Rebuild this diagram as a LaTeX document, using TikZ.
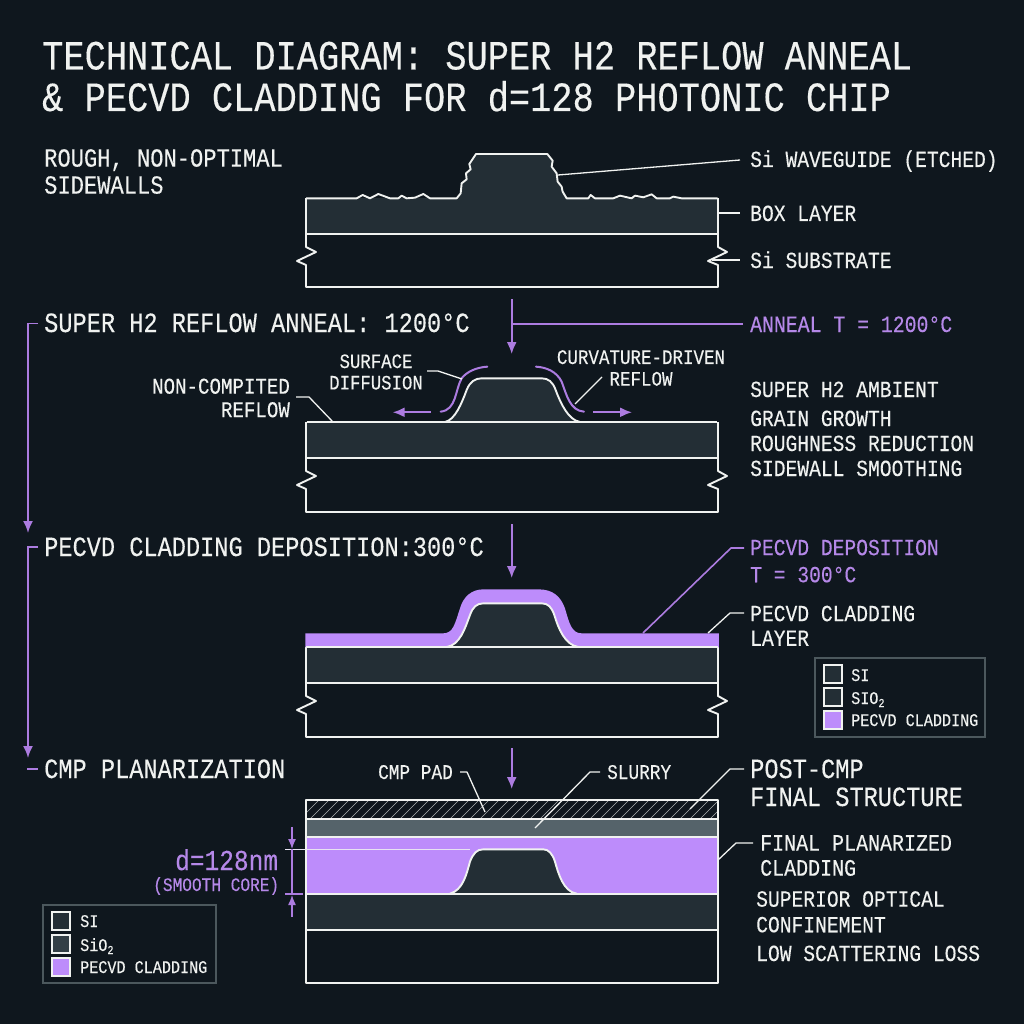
\documentclass[tikz,border=0pt]{standalone}
\usepackage{fontspec}
\setmainfont[FakeStretch=0.85,FakeBold=0.25]{Liberation Mono}
\usetikzlibrary{arrows.meta}
\definecolor{bgc}{HTML}{0F171E}
\definecolor{oxc}{HTML}{232E35}
\definecolor{purc}{HTML}{BD8CFB}
\definecolor{plc}{HTML}{AC7CE0}
\definecolor{ptx}{HTML}{B588E8}
\definecolor{txc}{HTML}{F0F2F0}
\definecolor{slc}{HTML}{55636A}
\definecolor{lgb}{HTML}{4C585D}
\definecolor{swb}{HTML}{333F46}
\newcommand{\fsz}[1]{\fontsize{#1}{#1}\selectfont}
\newcommand{\lsub}{\raisebox{-3pt}{\fontsize{12}{12}\selectfont 2}}
\newcommand{\panelbox}[3]{%
  \fill[oxc] (306,#1) rectangle (718,#2);
  \draw[ln] (306,#1) -- (306,#2) (718,#1) -- (718,#2);
  \draw[ln] (306,#2) -- (718,#2);
  \draw[ln] (306,#2) -- (306,#2+13) -- (316,#2+18) -- (297,#2+27) -- (306,#2+31) -- (306,#3) -- (718,#3) -- (718,#2+31) -- (708,#2+27) -- (727,#2+18) -- (718,#2+13) -- (718,#2);
}
\tikzset{
  ln/.style={draw=txc,line width=1.9pt,line join=round},
  lead/.style={draw=txc,line width=1.3pt,line join=round},
  plead/.style={draw=plc,line width=1.6pt,line join=round},
  parr/.style={plc,line width=1.8pt,-{Latex[length=12pt,width=10pt]}},
  txt/.style={anchor=base west,inner sep=0pt,text=txc},
  ptxt/.style={txt,text=ptx},
  mlt/.style={anchor=north west,inner sep=0pt,text=txc,align=left},
  title/.style={txt,font=\fsz{41.6}},
  head/.style={txt,font=\fsz{27.8}},
  lab/.style={txt,font=\fsz{23.1}},
  small/.style={txt,font=\fsz{20.6}},
  leg/.style={txt,font=\fsz{17.8}},
  lgbox/.style={draw=lgb,line width=1.1pt,fill=bgc},
  swatch/.style={draw=txc,line width=1.5pt}
}
\begin{document}
\begin{tikzpicture}[x=1pt,y=-1pt]
\useasboundingbox (0,0) rectangle (1024,1024);
\fill[bgc] (0,0) rectangle (1024,1024);
% title
\node[title] (t1) at (42,69.5) {TECHNICAL DIAGRAM: SUPER H2 REFLOW ANNEAL};
\node[title] (t2) at (42,111) {\& PECVD CLADDING FOR d=128 PHOTONIC CHIP};
% ---- panel 1
\panelbox{198}{234}{287}
\begin{scope}[shift={(290,140)},x=0.3333pt,y=-0.3333pt]
\fill[oxc] (500,174) -- (512,160) -- (515,130) -- (530,118) -- (528,100) -- (542,88) -- (538,72) -- (558,42) -- (772,42) -- (788,62) -- (785,80) -- (800,100) -- (803,125) -- (815,140) -- (818,155) -- (830,174) -- cycle;
\draw[ln] (48,175) -- (200,175) -- (218,165) -- (240,175) -- (265,162) -- (300,175) -- (325,175) -- (335,167) -- (350,175) -- (375,173) -- (400,162) -- (420,175) -- (500,175)
  -- (512,160) -- (515,130) -- (530,118) -- (528,100) -- (542,88) -- (538,72) -- (558,42) -- (772,42) -- (788,62) -- (785,80) -- (800,100) -- (803,125) -- (815,140) -- (818,155) -- (830,175)
  -- (895,175) -- (902,165) -- (915,175) -- (970,175) -- (990,167) -- (1025,175) -- (1035,167) -- (1060,172) -- (1085,163) -- (1100,175) -- (1140,175) -- (1150,170) -- (1175,175) -- (1283,175);
\end{scope}
\node[txt,font=\fsz{26},align=left,mlt] (rough) at (44,149) {ROUGH, NON-OPTIMAL\\[1pt]SIDEWALLS};
\node[lab] (wg) at (750,167) {Si WAVEGUIDE (ETCHED)};
\node[lab] (boxl) at (750,221) {BOX LAYER};
\node[lab] (subs) at (750,268) {Si SUBSTRATE};
\coordinate (wgend) at (558,175);
\coordinate (boxend) at (718,213);
\coordinate (subend) at (712,260);
\draw[lead] (wgend) -- (740,160);
\draw[lead] (boxend) -- (740,213);
\draw[lead] (subend) -- (740,260);
% ---- flow arrows
\coordinate (a1s) at (511.7,299); \coordinate (a1e) at (511.7,354);
\draw[parr] (a1s) -- (a1e);
\coordinate (a1b) at (511.7,324);
\node[ptxt,font=\fsz{23.3}] (annealT) at (750,332) {ANNEAL T = 1200°C};
\draw[plead] (a1b) -- (743,324);
\node[head] (h2) at (44,332) {SUPER H2 REFLOW ANNEAL: 1200°C};
\coordinate (r1t) at (38,323.5);
\draw[plc,line width=1.8pt,-{Latex[length=12pt,width=10pt]}] (r1t) -- (28,323.5) -- (28,533);
% ---- panel 2
\panelbox{422}{458}{512}
\begin{scope}[shift={(280,340)},x=0.3333pt,y=-0.3333pt]
\fill[oxc] (495,246) .. controls (525,240) and (545,190) .. (560,150) .. controls (570,125) and (585,115) .. (605,115) -- (785,115) .. controls (805,115) and (818,125) .. (827,150) .. controls (842,190) and (865,240) .. (900,246) -- cycle;
\draw[ln] (495,246) .. controls (525,240) and (545,190) .. (560,150) .. controls (570,125) and (585,115) .. (605,115) -- (785,115) .. controls (805,115) and (818,125) .. (827,150) .. controls (842,190) and (865,240) .. (900,246);
\draw[ln] (80,247) -- (1312,247);
\draw[plc,line width=2pt,line cap=round] (482,215) .. controls (530,210) and (525,150) .. (545,115) .. controls (560,95) and (590,82) .. (622,80);
\draw[plc,line width=2pt,line cap=round] (768,80) .. controls (800,82) and (830,95) .. (845,125) .. controls (860,165) and (870,212) .. (912,215);
\end{scope}
\coordinate (pl) at (430.7,412.3); \coordinate (pl2) at (392.7,412.3);
\coordinate (pr) at (593,412.3); \coordinate (pr2) at (632,412.3);
\draw[parr] (pl) -- (pl2);
\draw[parr] (pr) -- (pr2);
\node[font=\fsz{20.4},text=txc,inner sep=0pt,align=center] (surf) at (376,372) {SURFACE\\[1pt]DIFFUSION};
\node[font=\fsz{20.6},text=txc,inner sep=0pt,align=center] (curv) at (641,368) {CURVATURE-DRIVEN\\[1pt]REFLOW};
\node[font=\fsz{22.5},text=txc,inner sep=0pt,align=right] (nc) at (221,398) {NON-COMPITED\\[1pt]REFLOW};
\coordinate (nce) at (333,422);
\draw[lead] (296,397) -- (309,397) -- (nce);
\coordinate (sfe) at (462,379);
\draw[lead] (427,371) -- (438,371) -- (sfe);
\coordinate (cve) at (575,404);
\draw[lead] (602,377) -- (cve);
\node[lab] (amb) at (750,397) {SUPER H2 AMBIENT};
\node[lab] (gg) at (750,426) {GRAIN GROWTH};
\node[lab] (rr) at (750,451) {ROUGHNESS REDUCTION};
\node[lab] (ss) at (750,476) {SIDEWALL SMOOTHING};
% ---- panel 3
\coordinate (a2s) at (511.7,524); \coordinate (a2e) at (511.7,578);
\draw[parr] (a2s) -- (a2e);
\node[head] (h3) at (44,556) {PECVD CLADDING DEPOSITION:300°C};
\coordinate (r2t) at (38,547);
\draw[plc,line width=1.8pt,-{Latex[length=12pt,width=10pt]}] (r2t) -- (28,547) -- (28,758);
\panelbox{647}{683}{737}
\begin{scope}[shift={(290,570)},x=0.3333pt,y=-0.3333pt]
\fill[purc] (46,190) -- (460,190) .. controls (490,190) and (495,160) .. (510,115) .. controls (520,80) and (545,58) .. (580,58) -- (745,58) .. controls (790,58) and (812,80) .. (825,115) .. controls (838,160) and (845,190) .. (875,190) -- (1287,190) -- (1287,232) -- (46,232) -- cycle;
\fill[oxc] (470,232) .. controls (510,225) and (525,175) .. (540,135) .. controls (548,112) and (560,100) .. (580,100) -- (755,100) .. controls (775,100) and (785,112) .. (793,135) .. controls (805,175) and (825,225) .. (865,232) -- cycle;
\draw[ln] (470,231) .. controls (510,225) and (525,175) .. (540,135) .. controls (548,112) and (560,100) .. (580,100) -- (755,100) .. controls (775,100) and (785,112) .. (793,135) .. controls (805,175) and (825,225) .. (865,231);
\draw[ln] (48,232) -- (1283,232);
\end{scope}
\node[font=\fsz{23.1},mlt,text=ptx] (dep) at (750,539.5) {PECVD DEPOSITION\\[4pt]T = 300°C};
\node[font=\fsz{23.1},mlt] (cl) at (750,605.5) {PECVD CLADDING\\[1.5pt]LAYER};
\coordinate (depe) at (643,633);
\draw[plead] (depe) -- (731,548) -- (744,548);
\coordinate (cle) at (708,633);
\draw[lead] (cle) -- (730,613) -- (744,613);
% legend right
\node[lgbox,minimum width=170pt,minimum height=79pt,inner sep=0pt] (lg1) at (900,697.5) {};
\node[swatch,fill=oxc,minimum size=18pt,inner sep=0pt] (s1a) at (833,674) {};
\node[swatch,fill=oxc,minimum size=18pt,inner sep=0pt] (s1b) at (833,697) {};
\node[swatch,fill=purc,minimum size=18pt,inner sep=0pt] (s1c) at (833,720) {};
\node[leg] (l1a) at (851,681) {SI};
\node[leg] (l1b) at (851,704) {SIO\lsub};
\node[leg] (l1c) at (851,726) {PECVD CLADDING};
% ---- panel 4
\coordinate (a3s) at (511.7,748); \coordinate (a3e) at (511.7,789);
\draw[parr] (a3s) -- (a3e);
\coordinate (r3t) at (27,769);
\draw[plc,line width=1.8pt] (r3t) -- (38,769);
\node[head] (h4) at (44,778) {CMP PLANARIZATION};
\fill[bgc] (306,800) rectangle (718,819);
\begin{scope}
\clip (306,800) rectangle (718,819);
\foreach \hx in {300,310,...,740} \draw[txc!70!bgc,line width=0.6pt] (\hx,819) -- (\hx+20,799);
\end{scope}
\fill[slc] (306,819) rectangle (718,837);
\fill[purc] (306,837) rectangle (718,894);
\fill[oxc] (306,894) rectangle (718,930);
\begin{scope}[shift={(290,750)},x=0.3333pt,y=-0.3333pt]
\fill[oxc] (480,432) .. controls (520,420) and (530,370) .. (540,335) .. controls (550,310) and (560,298) .. (580,298) -- (760,298) .. controls (775,298) and (787,310) .. (795,335) .. controls (805,370) and (820,425) .. (860,432) -- cycle;
\draw[ln] (480,431) .. controls (520,420) and (530,370) .. (540,335) .. controls (550,310) and (560,298) .. (580,298) -- (760,298) .. controls (775,298) and (787,310) .. (795,335) .. controls (805,370) and (820,425) .. (860,431);
\end{scope}
\draw[ln] (306,800) rectangle (718,983);
\draw[ln] (306,819) -- (718,819) (306,837) -- (718,837) (306,894) -- (718,894) (306,930) -- (718,930);
\node[small,font=\fsz{20.9}] (pad) at (378,779) {CMP PAD};
\node[small,font=\fsz{20.9}] (sl) at (607,779) {SLURRY};
\coordinate (pade) at (485,812);
\coordinate (sle) at (535,828);
\draw[lead] (460,772) -- (467,772) -- (pade);
\draw[lead] (600,772) -- (590,772) -- (sle);
\node[head] (pc) at (750,778) {POST-CMP};
\node[head] (fs) at (750,806) {FINAL STRUCTURE};
\coordinate (pce) at (690,809);
\draw[lead] (pce) -- (730,769) -- (744,769);
\node[font=\fsz{23.5},mlt] (fp) at (760,835) {FINAL PLANARIZED\\[1.5pt]CLADDING};
\coordinate (fpe) at (718,860);
\draw[lead] (fpe) -- (736,843) -- (753,843);
\node[font=\fsz{23.1},mlt] (so) at (756,891) {SUPERIOR OPTICAL\\[2.5pt]CONFINEMENT};
\node[lab] (ll) at (756,961) {LOW SCATTERING LOSS};
% dimension
\coordinate (dl) at (285,849.7); \coordinate (dr) at (470,849.7);
\draw[draw=txc!85!purc,line width=1.3pt] (dl) -- (dr);
\draw[plc,line width=1.3pt] (285,894) -- (303,894);
\coordinate (d1s) at (292,827); \coordinate (d1e) at (292,849);
\coordinate (d2s) at (292,917); \coordinate (d2e) at (292,895);
\draw[plc,line width=1.3pt,-{Latex[length=10pt,width=8pt]}] (d1s) -- (d1e);
\draw[plc,line width=1.3pt,-{Latex[length=10pt,width=8pt]}] (d2s) -- (d2e);
\draw[plc,line width=1.3pt] (d1e) -- (d2e);
\node[ptxt,font=\fsz{28.8}] (d128) at (175,870) {d=128nm};
\node[ptxt,font=\fsz{19}] (smooth) at (153,891) {(SMOOTH CORE)};
% legend left
\node[lgbox,minimum width=173pt,minimum height=78pt,inner sep=0pt] (lg2) at (129.5,944) {};
\node[swatch,fill=oxc,minimum size=18pt,inner sep=0pt] (s2a) at (61,921) {};
\node[swatch,fill=swb,minimum size=18pt,inner sep=0pt] (s2b) at (61,944) {};
\node[swatch,fill=purc,minimum size=18pt,inner sep=0pt] (s2c) at (61,967) {};
\node[leg] (l2a) at (80,927) {SI};
\node[leg] (l2b) at (80,951) {SiO\lsub};
\node[leg] (l2c) at (80,973) {PECVD CLADDING};
\end{tikzpicture}
\end{document}
